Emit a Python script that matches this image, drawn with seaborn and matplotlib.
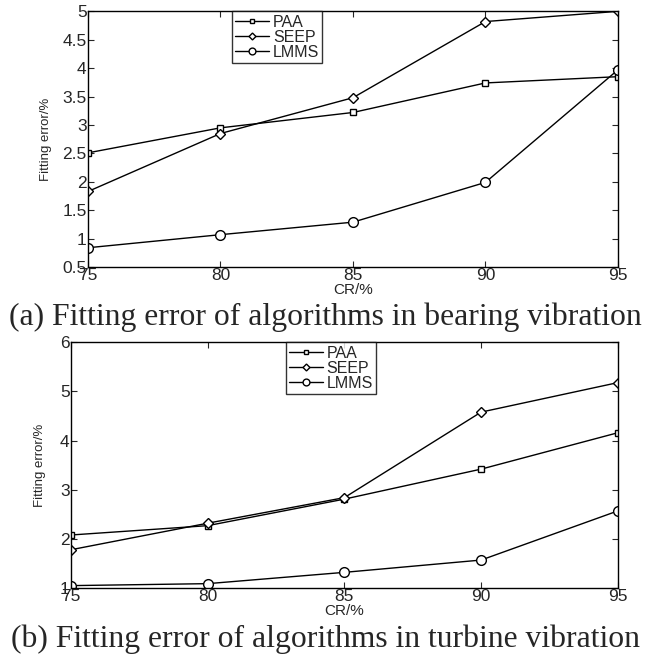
import pandas as pd
import matplotlib
matplotlib.use("Agg")
import matplotlib.pyplot as plt
import seaborn as sns

# Data
cr = [75, 80, 85, 90, 95]
algorithms = ["PAA", "SEEP", "LMMS"]

# (a) bearing vibration
bearing_paa = [2.51, 2.95, 3.22, 3.74, 3.85]
bearing_seep = [1.83, 2.85, 3.48, 4.82, 5.00]
bearing_lmms = [0.84, 1.07, 1.29, 1.99, 3.97]

# (b) turbine vibration
turbine_paa = [2.08, 2.27, 2.81, 3.42, 4.16]
turbine_seep = [1.78, 2.32, 2.84, 4.58, 5.18]
turbine_lmms = [1.05, 1.09, 1.32, 1.57, 2.57]

captions = ["(a) Fitting error of algorithms in bearing vibration",
            "(b) Fitting error of algorithms in turbine vibration"]


def to_long(paa, seep, lmms):
    rows = []
    for name, vals in zip(algorithms, [paa, seep, lmms]):
        for x, y in zip(cr, vals):
            rows.append({"CR": x, "error": y, "algorithm": name})
    return pd.DataFrame(rows)


sns.set_style("ticks")
plt.rcParams['font.family'] = ['Liberation Sans', 'DejaVu Sans']
plt.rcParams['xtick.direction'] = 'in'
plt.rcParams['ytick.direction'] = 'in'

fig = plt.figure(figsize=(6.51, 6.66), dpi=100)
ax1 = fig.add_axes([0.1352, 0.599, 0.814, 0.384])
ax2 = fig.add_axes([0.109, 0.117, 0.840, 0.369])

markers = {"PAA": "s", "SEEP": "D", "LMMS": "o"}
marker_sizes = {"PAA": 5, "SEEP": 5, "LMMS": 7}

panels = [
    (ax1, to_long(bearing_paa, bearing_seep, bearing_lmms), (0.5, 5),
     [0.5, 1, 1.5, 2, 2.5, 3, 3.5, 4, 4.5, 5],
     ["0.5", "1", "1.5", "2", "2.5", "3", "3.5", "4", "4.5", "5"],
     0.272, -0.068),
    (ax2, to_long(turbine_paa, turbine_seep, turbine_lmms), (1, 6),
     [1, 2, 3, 4, 5, 6], ["1", "2", "3", "4", "5", "6"],
     0.393, -0.045),
]

for ax, df, ylim, yticks, ylabels, leg_x, lab_x in panels:
    for name in algorithms:
        sub = df[df["algorithm"] == name]
        sns.lineplot(data=sub, x="CR", y="error", ax=ax, color="black",
                     marker=markers[name], markersize=marker_sizes[name],
                     markerfacecolor="white", markeredgecolor="black",
                     markeredgewidth=1.0, linewidth=1.0, label=name)
    ax.set_xlim(75, 95)
    ax.set_ylim(*ylim)
    ax.set_xticks(cr)
    ax.set_xticklabels([str(c) for c in cr], fontsize=12.5)
    ax.set_yticks(yticks)
    ax.set_yticklabels(ylabels, fontsize=12.5)
    ax.tick_params(top=True, right=True, length=4, width=0.8, pad=1)
    for sp in ax.spines.values():
        sp.set_visible(True)
        sp.set_linewidth(1.0)
        sp.set_color("black")
    ax.set_xlabel("CR/%", fontsize=11, labelpad=0)
    ax.set_ylabel("Fitting error/%", fontsize=9.5)
    ax.yaxis.set_label_coords(lab_x, 0.5)
    leg = ax.legend(loc="upper left", bbox_to_anchor=(leg_x, 1.0), fontsize=11.5,
                    frameon=True, fancybox=False, borderpad=0.2,
                    labelspacing=0.0, handlelength=2.1, handletextpad=0.25,
                    borderaxespad=0.0, markerscale=0.7)
    leg.get_frame().set_edgecolor("black")
    leg.get_frame().set_linewidth(1.0)

fig.text(0.5, 0.523, captions[0], ha="center", va="center", fontsize=22.8,
         family=["Liberation Serif", "DejaVu Serif"])
fig.text(0.5, 0.040, captions[1], ha="center", va="center", fontsize=22.8,
         family=["Liberation Serif", "DejaVu Serif"])

fig.savefig("out.png", dpi=100)
